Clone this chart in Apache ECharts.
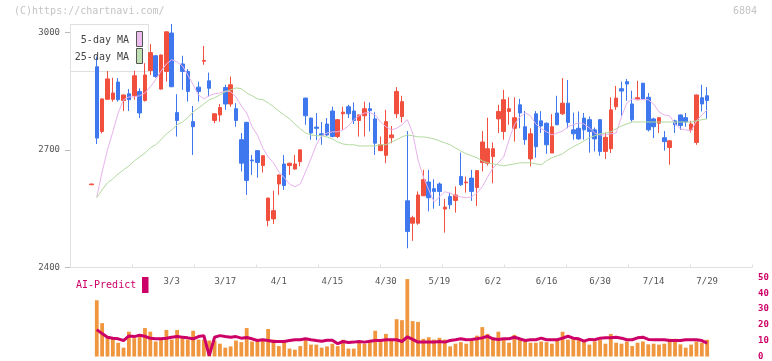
<!DOCTYPE html>
<html>
<head>
<meta charset="utf-8">
<script src="https://cdn.jsdelivr.net/npm/echarts@6/dist/echarts.min.js"></script>
<style>
html, body { margin: 0; padding: 0; background: #fff; }
#chart { width: 772px; height: 361px; }
</style>
</head>
<body>
<div id="chart"></div>
<script>
// trading days (first one is the lone dash before the candles start)
const dates = ['2/6','2/7','2/10','2/12','2/13','2/14','2/17','2/18','2/19','2/20','2/21','2/25','2/26','2/27','2/28',
  '3/3','3/4','3/5','3/6','3/7','3/10','3/11','3/12','3/13','3/14','3/17','3/18','3/19','3/21','3/24','3/25','3/26','3/27','3/28','3/31',
  '4/1','4/2','4/3','4/4','4/7','4/8','4/9','4/10','4/11','4/14','4/15','4/16','4/17','4/18','4/21','4/22','4/23','4/24','4/25','4/28','4/30',
  '5/1','5/7','5/8','5/9','5/12','5/13','5/14','5/15','5/16','5/19','5/20','5/21','5/22','5/23','5/26','5/27','5/28','5/29','5/30',
  '6/2','6/3','6/4','6/5','6/6','6/9','6/10','6/11','6/12','6/13','6/16','6/17','6/18','6/19','6/20','6/23','6/24','6/25','6/26','6/27','6/30',
  '7/1','7/2','7/3','7/4','7/7','7/8','7/9','7/10','7/11','7/14','7/15','7/16','7/17','7/18','7/22','7/23','7/24','7/25','7/28','7/29']

const tickDates = ['3/3','3/17','4/1','4/15','4/30','5/19','6/2','6/16','6/30','7/14','7/29']
const priceTicks = [2400, 2700, 3000]

const openP = [2611,
  2912, 2747, 2829, 2829, 2873, 2826, 2843, 2838, 2849, 2826,
  2902, 2940, 2855, 2900, 2998, 2795, 2919, 2900, 2772, 2860,
  2926, 2876, 2775, 2789, 2859, 2817, 2805, 2726, 2770, 2674,
  2698, 2660, 2520, 2524, 2613, 2664, 2660, 2651, 2670, 2832,
  2781, 2758, 2741, 2766, 2799, 2734, 2792, 2810, 2799, 2775,
  2787, 2805, 2779, 2698, 2686, 2731, 2792, 2785, 2570, 2513,
  2513, 2583, 2618, 2601, 2613, 2549, 2581, 2571, 2632, 2616,
  2628, 2604, 2668, 2666, 2683, 2779, 2747, 2798, 2755, 2815,
  2759, 2677, 2792, 2774, 2768, 2692, 2794, 2792, 2819, 2751,
  2755, 2781, 2777, 2751, 2777, 2696, 2703, 2810, 2856, 2874,
  2817, 2828, 2870, 2834, 2779, 2768, 2731, 2706, 2774, 2789,
  2782, 2751, 2719, 2833, 2838]

const closeP = [2613,
  2730, 2830, 2881, 2845, 2828, 2840, 2828, 2889, 2794, 2891,
  2948, 2887, 2942, 3001, 2861, 2775, 2900, 2849, 2759, 2849,
  2928, 2857, 2792, 2808, 2817, 2866, 2775, 2666, 2622, 2672,
  2668, 2685, 2577, 2545, 2636, 2609, 2666, 2664, 2700, 2787,
  2743, 2755, 2737, 2738, 2734, 2777, 2796, 2792, 2775, 2789,
  2805, 2800, 2717, 2713, 2772, 2738, 2849, 2823, 2492, 2527,
  2585, 2624, 2578, 2594, 2594, 2554, 2560, 2585, 2611, 2618,
  2594, 2647, 2720, 2703, 2703, 2798, 2828, 2805, 2782, 2794,
  2726, 2741, 2708, 2761, 2713, 2759, 2764, 2819, 2770, 2741,
  2728, 2751, 2747, 2728, 2696, 2732, 2802, 2832, 2850, 2868,
  2777, 2833, 2830, 2751, 2759, 2782, 2721, 2723, 2764, 2762,
  2771, 2766, 2840, 2817, 2826]

const lowP = [2611,
  2715, 2742, 2828, 2823, 2823, 2799, 2799, 2828, 2781, 2823,
  2891, 2884, 2854, 2874, 2860, 2734, 2853, 2823, 2687, 2823,
  2917, 2836, 2768, 2772, 2802, 2810, 2759, 2645, 2585, 2636,
  2629, 2642, 2505, 2511, 2585, 2598, 2636, 2650, 2658, 2764,
  2726, 2725, 2713, 2735, 2732, 2730, 2751, 2781, 2766, 2734,
  2734, 2747, 2687, 2697, 2666, 2717, 2781, 2770, 2449, 2468,
  2509, 2582, 2543, 2550, 2557, 2489, 2549, 2540, 2608, 2591,
  2570, 2557, 2645, 2660, 2615, 2743, 2726, 2764, 2721, 2755,
  2713, 2658, 2680, 2743, 2690, 2692, 2763, 2789, 2755, 2726,
  2726, 2726, 2693, 2696, 2685, 2677, 2692, 2802, 2787, 2825,
  2772, 2827, 2829, 2747, 2730, 2743, 2698, 2662, 2743, 2751,
  2759, 2744, 2713, 2798, 2779]

const highP = [2613,
  2938, 2831, 2901, 2884, 2883, 2841, 2855, 2902, 2857, 2921,
  2970, 2942, 2943, 3002, 3021, 2842, 2940, 2906, 2812, 2874,
  2965, 2897, 2793, 2817, 2866, 2887, 2819, 2743, 2772, 2687,
  2699, 2687, 2578, 2596, 2637, 2687, 2667, 2687, 2701, 2833,
  2782, 2794, 2771, 2781, 2810, 2778, 2810, 2815, 2821, 2790,
  2823, 2821, 2796, 2734, 2802, 2761, 2860, 2838, 2748, 2532,
  2594, 2649, 2649, 2625, 2617, 2575, 2590, 2607, 2693, 2632,
  2649, 2648, 2748, 2782, 2719, 2815, 2853, 2834, 2834, 2830,
  2799, 2755, 2799, 2799, 2770, 2791, 2838, 2883, 2878, 2795,
  2798, 2794, 2785, 2757, 2778, 2744, 2834, 2863, 2874, 2881,
  2851, 2876, 2871, 2845, 2782, 2783, 2748, 2724, 2777, 2790,
  2794, 2774, 2841, 2866, 2860]

const ma5 = [null,
  2580, 2644, 2700, 2746, 2794, 2828, 2835, 2835, 2838, 2845,
  2861, 2879, 2901, 2919, 2930, 2924, 2914, 2891, 2866, 2840,
  2830, 2838, 2843, 2845, 2850, 2848, 2835, 2812, 2794, 2759,
  2738, 2705, 2682, 2667, 2644, 2629, 2613, 2606, 2613, 2644,
  2677, 2713, 2736, 2743, 2746, 2746, 2751, 2761, 2777, 2787,
  2794, 2795, 2789, 2771, 2759, 2751, 2755, 2764, 2777, 2743,
  2674, 2631, 2598, 2567, 2580, 2593, 2590, 2583, 2580, 2578,
  2580, 2590, 2606, 2631, 2654, 2667, 2682, 2726, 2764, 2784,
  2794, 2787, 2766, 2754, 2746, 2738, 2743, 2748, 2759, 2764,
  2769, 2766, 2756, 2743, 2738, 2738, 2741, 2743, 2784, 2820,
  2830, 2828, 2828, 2828, 2817, 2797, 2789, 2787, 2766, 2754,
  2751, 2748, 2774, 2789, 2802]

const ma25 = [null,
  2578, 2598, 2616, 2626, 2639, 2649, 2659, 2672, 2682, 2692,
  2705, 2713, 2726, 2741, 2751, 2764, 2771, 2782, 2797, 2807,
  2817, 2828, 2833, 2840, 2848, 2853, 2858, 2856, 2845, 2838,
  2830, 2828, 2820, 2810, 2799, 2789, 2779, 2766, 2754, 2743,
  2738, 2736, 2736, 2733, 2728, 2720, 2715, 2713, 2713, 2710,
  2710, 2710, 2710, 2713, 2713, 2720, 2726, 2733, 2738, 2736,
  2733, 2733, 2731, 2728, 2723, 2718, 2713, 2705, 2697, 2690,
  2685, 2680, 2672, 2667, 2664, 2662, 2659, 2662, 2664, 2667,
  2667, 2667, 2664, 2662, 2672, 2680, 2685, 2690, 2700, 2708,
  2715, 2723, 2731, 2736, 2741, 2743, 2746, 2754, 2761, 2766,
  2771, 2771, 2771, 2771, 2771, 2771, 2771, 2771, 2771, 2771,
  2771, 2771, 2774, 2777, 2779]

const volume = [null,
  35.6, 21.1, 12.8, 12.2, 8.7, 5.6, 15.7, 11.6, 13.7, 18,
  15.7, 9.5, 10.7, 16.8, 10.7, 16.8, 11.6, 10.7, 16.3, 10.7,
  10.7, 10.1, 10.1, 8.1, 5.6, 6.4, 10.1, 9.1, 18, 9.5,
  10.7, 10.7, 17.4, 10.7, 6.6, 9.1, 5, 4.3, 6.6, 10.6,
  7.5, 7.5, 5.6, 6.4, 8.1, 6.6, 10.6, 5, 5, 9.1,
  8.1, 9.1, 16.3, 9.1, 14.3, 10.1, 23.6, 23, 49, 22.4,
  21.9, 11.2, 12.2, 10.7, 11.8, 10.7, 6.4, 8.1, 9.1, 8.1,
  10.1, 13.2, 18.6, 14.3, 11.8, 15.7, 10.4, 8.7, 13.7, 10.7,
  9.5, 8.7, 8.7, 9.5, 9.1, 8.1, 11.2, 15.7, 10.7, 12.2,
  10.6, 9.1, 7.5, 9.5, 10.6, 8.1, 14.3, 8.7, 8.1, 9.5,
  6.6, 8.7, 9.5, 7.7, 8.1, 7.5, 8.1, 11.2, 11.2, 7.7,
  5.6, 7.5, 9.5, 8.7, 10.6]

const aiPredict = [null,
  17, 14.5, 12.2, 11.5, 11.2, 10.1, 13, 12.6, 13.5, 12.8,
  11.5, 11.2, 11.2, 11.5, 12.2, 12.6, 12.2, 11.8, 11.2, 12.6,
  13.2, 0.5, 12.2, 13.2, 12.6, 12.2, 12.6, 11.6, 12, 11.2,
  10.1, 10.6, 10.1, 9.5, 9.5, 9.5, 10.1, 10.6, 10.6, 11.2,
  10.6, 10.1, 9.7, 10.3, 10.3, 8.1, 9.5, 8.9, 9.1, 9.5,
  9.1, 9.7, 10.1, 10.1, 10.6, 10.6, 10.6, 9.5, 12.4, 10.8,
  9.1, 9.1, 9.1, 9.1, 9.5, 9.1, 10.1, 10.6, 11.2, 10.6,
  10.8, 11.2, 11.8, 12.8, 11.2, 10.8, 11.2, 11.2, 12.2, 11.2,
  10.1, 10.6, 10.6, 11.6, 10.6, 10.6, 10.6, 11.6, 12.8, 11.6,
  11.2, 9.7, 10.8, 10.6, 11.6, 11.8, 11.8, 12.2, 11.6, 10.6,
  10.6, 11.8, 12.2, 10.8, 10.6, 10.6, 10.6, 10.1, 10.1, 10.1,
  10.6, 10.6, 10.6, 10.1, 8.5]

// empty slots before and after the data on the category axis
const padBefore = ['b0', 'b1', 'b2', 'b3']
const padAfter = ['a0', 'a1', 'a2', 'a3', 'a4', 'a5', 'a6', 'a7']
const cats = [...padBefore, ...dates, ...padAfter]
const fill = (arr) => [...padBefore.map(() => '-'), ...arr.map(v => v == null ? '-' : v), ...padAfter.map(() => '-')]

const candles = fill(dates.map((d, i) => [openP[i], closeP[i], lowP[i], highP[i]]))

const mono = 'DejaVu Sans Mono'
const UP = '#f2503e'
const DOWN = '#3f78ee'
const AI = '#cc0066'

const chart = echarts.init(document.getElementById('chart'))

const option = {
  animation: false,
  backgroundColor: '#fff',
  grid: [
    { left: 70, right: 22, top: 24, height: 243.5 },
    { left: 70, right: 22, top: 277.5, height: 80.5 },
    { left: 70, right: 20, top: 24, height: 243.5 }
  ],
  xAxis: [
    {
      gridIndex: 0,
      type: 'category',
      data: cats,
      boundaryGap: false,
      axisLine: { show: false },
      axisTick: { show: false },
      splitLine: { show: false },
      axisLabel: {
        interval: (idx, val) => tickDates.includes(val),
        color: '#555',
        fontSize: 9,
        fontFamily: mono,
        margin: 10
      }
    },
    {
      gridIndex: 1,
      type: 'category',
      data: cats,
      boundaryGap: false,
      show: false
    },
    {
      gridIndex: 2,
      type: 'value',
      min: 0,
      max: 11,
      interval: 1,
      axisLine: { show: true, lineStyle: { color: '#e0e0e0' } },
      axisTick: { show: true, inside: true, length: 3, lineStyle: { color: '#e0e0e0' } },
      axisLabel: { show: false },
      splitLine: { show: false }
    }
  ],
  yAxis: [
    {
      gridIndex: 0,
      type: 'value',
      min: 2400,
      max: 3021,
      axisLine: { show: true, lineStyle: { color: '#e2e2e2' } },
      axisTick: { show: true, length: 5, customValues: priceTicks, lineStyle: { color: '#bbb' } },
      axisLabel: {
        customValues: priceTicks,
        formatter: v => String(v),
        color: '#555',
        fontSize: 9,
        fontFamily: mono,
        margin: 10
      },
      splitLine: { show: false }
    },
    {
      gridIndex: 1,
      type: 'value',
      position: 'right',
      min: 0,
      max: 50,
      interval: 10,
      axisLine: { show: false },
      axisTick: { show: false },
      axisLabel: { color: AI, fontSize: 9, fontFamily: mono, fontWeight: 'bold', margin: 8 },
      splitLine: { show: false }
    },
    { gridIndex: 2, type: 'value', show: false }
  ],
  graphic: [
    {
      type: 'text', left: 14, top: 6, z: 10,
      style: { text: '(C)https://chartnavi.com/', fill: '#c4c4c4', font: '10px "DejaVu Sans Mono"' }
    },
    {
      type: 'text', right: 15, top: 6, z: 10,
      style: { text: '6804', fill: '#c4c4c4', font: '10px "DejaVu Sans Mono"' }
    },
    {
      type: 'rect', z: 0, shape: { x: 70.5, y: 24.5, width: 78, height: 47 },
      style: { fill: 'rgba(255,255,255,0.6)', stroke: '#e0e0e0', lineWidth: 1 }
    },
    {
      type: 'text', z: 10, x: 129, y: 40,
      style: { text: '5-day MA', fill: '#444', font: '10px "DejaVu Sans Mono"', align: 'right', verticalAlign: 'middle' }
    },
    {
      type: 'rect', z: 10, shape: { x: 136.5, y: 31.5, width: 6, height: 15 },
      style: { fill: '#ecbcec', stroke: '#555', lineWidth: 1 }
    },
    {
      type: 'text', z: 10, x: 129, y: 57,
      style: { text: '25-day MA', fill: '#444', font: '10px "DejaVu Sans Mono"', align: 'right', verticalAlign: 'middle' }
    },
    {
      type: 'rect', z: 10, shape: { x: 136.5, y: 48.5, width: 6, height: 15 },
      style: { fill: '#bfe0b0', stroke: '#555', lineWidth: 1 }
    },
    {
      type: 'text', z: 10, x: 76, y: 285,
      style: { text: 'AI-Predict', fill: AI, font: '10px "DejaVu Sans Mono"', verticalAlign: 'middle' }
    },
    {
      type: 'rect', z: 10, shape: { x: 142, y: 277, width: 6.5, height: 16 },
      style: { fill: AI }
    }
  ],
  series: [
    {
      name: 'price',
      type: 'candlestick',
      xAxisIndex: 0,
      yAxisIndex: 0,
      data: candles,
      barWidth: 4,
      itemStyle: {
        color: UP,
        color0: DOWN,
        borderColor: UP,
        borderColor0: DOWN,
        borderWidth: 1
      }
    },
    {
      name: '5-day MA',
      type: 'line',
      xAxisIndex: 0,
      yAxisIndex: 0,
      data: fill(ma5),
      symbol: 'none',
      lineStyle: { color: '#e8b2ec', width: 1 },
      z: 3
    },
    {
      name: '25-day MA',
      type: 'line',
      xAxisIndex: 0,
      yAxisIndex: 0,
      data: fill(ma25),
      symbol: 'none',
      lineStyle: { color: '#b2da9e', width: 1 },
      z: 3
    },
    {
      name: 'volume',
      type: 'bar',
      xAxisIndex: 1,
      yAxisIndex: 1,
      data: fill(volume),
      barWidth: 3.8,
      itemStyle: { color: '#f0963e' }
    },
    {
      name: 'AI-Predict',
      type: 'line',
      xAxisIndex: 1,
      yAxisIndex: 1,
      data: fill(aiPredict),
      symbol: 'none',
      lineStyle: { color: AI, width: 3 },
      z: 4
    }
  ]
}

chart.setOption(option)
</script>
</body>
</html>
